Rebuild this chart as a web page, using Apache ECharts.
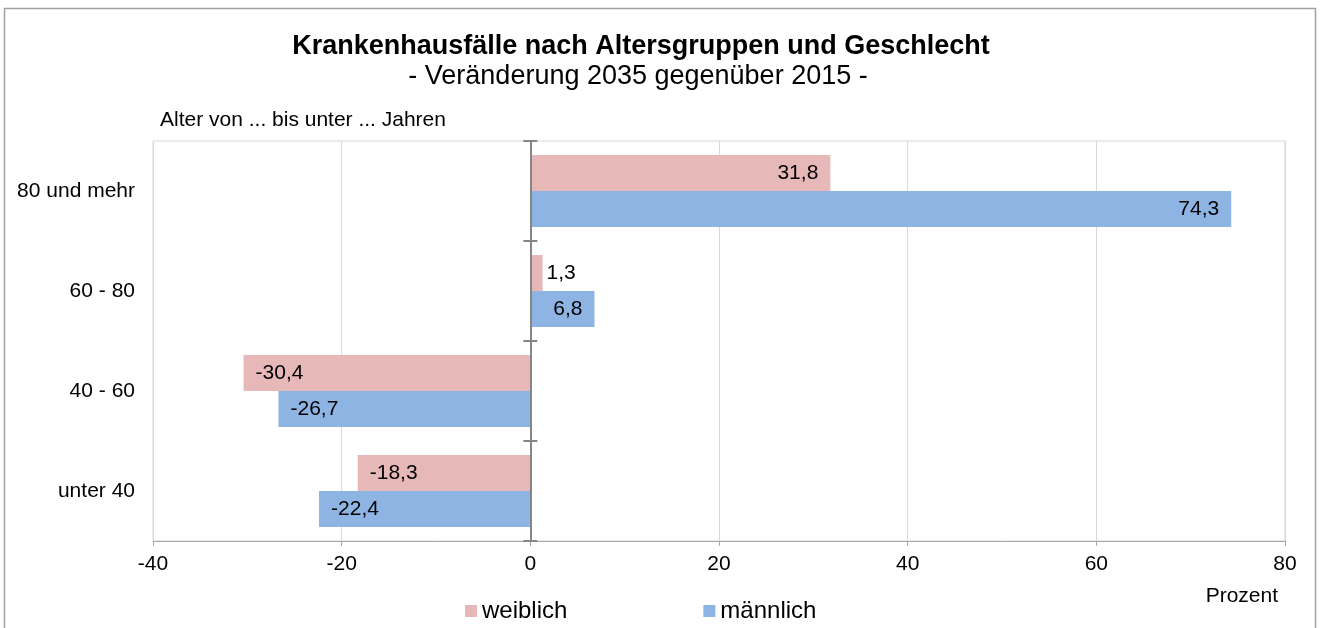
<!DOCTYPE html>
<html>
<head>
<meta charset="utf-8">
<script src="https://cdn.jsdelivr.net/npm/echarts@6/dist/echarts.min.js"></script>
<style>
  html, body { margin: 0; padding: 0; background: #fff; }
  #chart-container { width: 1323px; height: 628px; }
</style>
</head>
<body>
<div id="chart-container"></div>
<script>
var dom = document.getElementById('chart-container');
var myChart = echarts.init(dom, null, {
    renderer: 'canvas',
    useDirtyRect: false
});

// Altersgruppen (von unten nach oben)
var categories = ['unter 40', '40 - 60', '60 - 80', '80 und mehr'];
// Veränderung 2035 gegenüber 2015 in Prozent
var weiblich = [-18.3, -30.4, 1.3, 31.8];
var maennlich = [-22.4, -26.7, 6.8, 74.3];

var fontFamily = '"Liberation Sans", Arial, sans-serif';

function fmt(v) {
    return v.toFixed(1).replace('.', ',');
}

// Beschriftung innen am Ende, bei sehr kurzen Balken außen
function withLabels(values) {
    return values.map(function (v) {
        var pos = v < 0 ? 'insideLeft' : (v < 3 ? 'right' : 'insideRight');
        return {
            value: v,
            label: { position: pos, distance: pos === 'right' ? 4 : 12 }
        };
    });
}

var option;

option = {
    animation: false,
    textStyle: { fontFamily: fontFamily },
    title: [
        {
            text: 'Krankenhausfälle nach Altersgruppen und Geschlecht',
            left: 636,
            textAlign: 'center',
            top: 28,
            textStyle: { fontSize: 27, fontWeight: 'bold', color: '#000', fontFamily: fontFamily }
        },
        {
            text: '- Veränderung 2035 gegenüber 2015 -',
            left: 633,
            textAlign: 'center',
            top: 58,
            textStyle: { fontSize: 27, fontWeight: 'normal', color: '#000', fontFamily: fontFamily }
        },
        {
            text: 'Alter von ... bis unter ... Jahren',
            left: 155,
            top: 105,
            textStyle: { fontSize: 21, fontWeight: 'normal', color: '#000', fontFamily: fontFamily }
        },
        {
            text: 'Prozent',
            right: 40,
            top: 581,
            textStyle: { fontSize: 21, fontWeight: 'normal', color: '#000', fontFamily: fontFamily }
        }
    ],
    graphic: [
        {
            type: 'rect',
            shape: { x: 4.5, y: 8.5, width: 1311, height: 700 },
            style: { fill: 'none', stroke: '#a0a0a0', lineWidth: 1.5 },
            silent: true
        }
    ],
    legend: {
        data: ['weiblich', 'männlich'],
        left: 460,
        top: 594,
        itemWidth: 12,
        itemHeight: 12,
        itemGap: 136,
        icon: 'rect',
        textStyle: { fontSize: 24, color: '#000', fontFamily: fontFamily }
    },
    grid: {
        left: 153,
        right: 38,
        top: 141,
        bottom: 87,
        show: true,
        borderColor: '#d9d9d9',
        borderWidth: 1
    },
    xAxis: {
        type: 'value',
        min: -40,
        max: 80,
        interval: 20,
        axisLine: { show: true, onZero: false, lineStyle: { color: '#a6a6a6' } },
        axisTick: { show: true, length: 5, lineStyle: { color: '#a6a6a6' } },
        axisLabel: { fontSize: 21, color: '#000', margin: 13, fontFamily: fontFamily },
        splitLine: { show: true, lineStyle: { color: '#d9d9d9' } }
    },
    yAxis: [
        {
            type: 'category',
            data: categories,
            position: 'left',
            axisLine: { show: false, onZero: false },
            axisTick: { show: false },
            axisLabel: { fontSize: 21, color: '#000', margin: 18, fontFamily: fontFamily }
        },
        {
            type: 'category',
            data: categories,
            position: 'left',
            z: 5,
            axisLine: { show: true, onZero: true, onZeroAxisIndex: 0, lineStyle: { color: '#868686', width: 2 } },
            axisTick: { show: true, length: 7, lineStyle: { color: '#868686', width: 2 } },
            axisLabel: { show: false },
            splitLine: { show: false }
        },
        {
            type: 'category',
            data: categories,
            position: 'left',
            z: 5,
            axisLine: { show: true, onZero: true, onZeroAxisIndex: 0, lineStyle: { color: '#868686', width: 2 } },
            axisTick: { show: true, inside: true, length: 7, lineStyle: { color: '#868686', width: 2 } },
            axisLabel: { show: false },
            splitLine: { show: false }
        }
    ],
    series: [
        {
            name: 'weiblich',
            type: 'bar',
            yAxisIndex: 0,
            data: withLabels(weiblich),
            barGap: '0%',
            barCategoryGap: '28%',
            itemStyle: { color: '#E6B9B8' },
            label: {
                show: true,
                fontSize: 21,
                color: '#000',
                fontFamily: fontFamily,
                formatter: function (p) { return fmt(p.value); }
            },
            z: 1
        },
        {
            name: 'männlich',
            type: 'bar',
            yAxisIndex: 0,
            data: withLabels(maennlich),
            barGap: '0%',
            barCategoryGap: '28%',
            itemStyle: { color: '#8EB4E3' },
            label: {
                show: true,
                fontSize: 21,
                color: '#000',
                fontFamily: fontFamily,
                formatter: function (p) { return fmt(p.value); }
            },
            z: 1
        }
    ]
};

if (option && typeof option === 'object') {
    myChart.setOption(option);
}

window.addEventListener('resize', myChart.resize);
</script>
</body>
</html>
